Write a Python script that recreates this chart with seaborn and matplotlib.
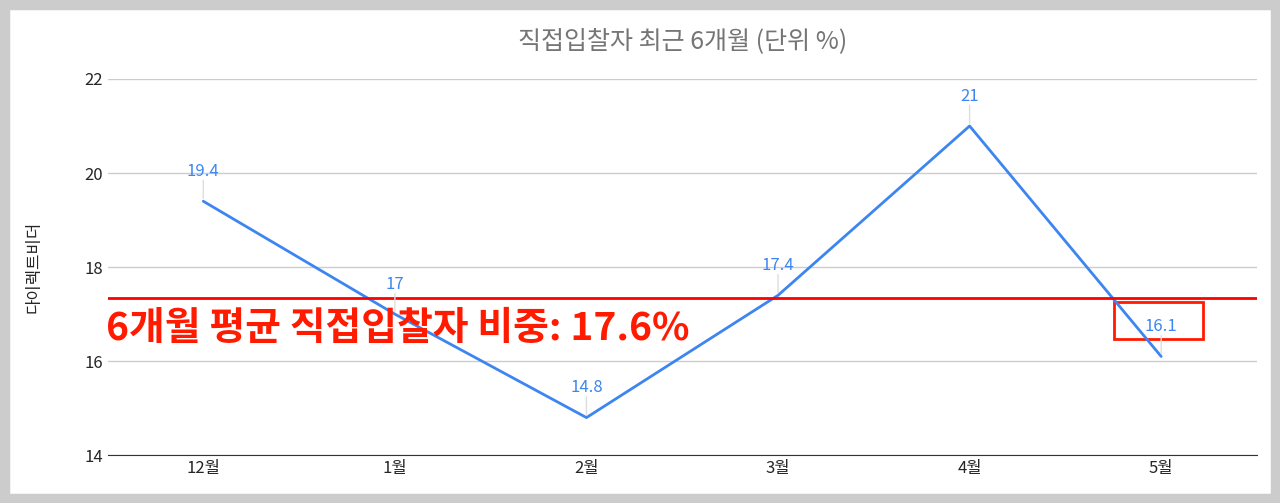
import matplotlib
matplotlib.use('Agg')
import matplotlib.pyplot as plt
import seaborn as sns
import pandas as pd
from matplotlib.patches import Rectangle

months = ['12월', '1월', '2월', '3월', '4월', '5월']
values = [19.4, 17, 14.8, 17.4, 21, 16.1]
average = 17.35

sns.set_style('white')
plt.rcParams['font.family'] = ['Noto Sans CJK KR', 'DejaVu Sans']

df = pd.DataFrame({'month': months, 'value': values, 'pos': range(len(months))})

fig = plt.figure(figsize=(12.8, 5.03), dpi=100)
fig.patches.append(Rectangle((0, 0), 1, 1, transform=fig.transFigure,
                             fill=False, edgecolor='#cccccc', linewidth=14))
ax = fig.add_axes([0.084, 0.095, 0.898, 0.748])

sns.lineplot(data=df, x='pos', y='value', color='#3d85f0', linewidth=2, ax=ax)
for i, v in enumerate(values):
    ax.annotate('', xy=(i, v), xytext=(i, v + 0.5),
                arrowprops=dict(arrowstyle='-', color='#dddddd', lw=1))
    ax.text(i, v + 0.45, f'{v:g}', color='#3d85f0', fontsize=12,
            ha='center', va='bottom')

ax.axhline(average, color='#ff0000', linewidth=2)
ax.text(-0.51, 16.7, '6개월 평균 직접입찰자 비중: 17.6%', color='#ff1a00',
        fontsize=28, fontweight='bold', va='center', ha='left')
ax.add_patch(Rectangle((4.755, 16.47), 0.465, 0.79, fill=False,
                       edgecolor='#ff1a00', linewidth=2))

ax.set_xlim(-0.5, 5.5)
ax.set_ylim(14, 22)
ax.set_yticks([14, 16, 18, 20, 22])
ax.set_xticks(range(len(months)))
ax.set_xticklabels(months)
ax.tick_params(labelsize=12, length=0)
ax.grid(axis='y', color='#cccccc', linewidth=1)
for s in ['top', 'right', 'left']:
    ax.spines[s].set_visible(False)
ax.spines['bottom'].set_color('#333333')
ax.set_xlabel('')
ax.set_ylabel('다이렉트비더', fontsize=12, labelpad=30)
ax.set_title('직접입찰자 최근 6개월 (단위 %)', color='#757575', fontsize=18, pad=22)

fig.savefig('out.png', dpi=100)
